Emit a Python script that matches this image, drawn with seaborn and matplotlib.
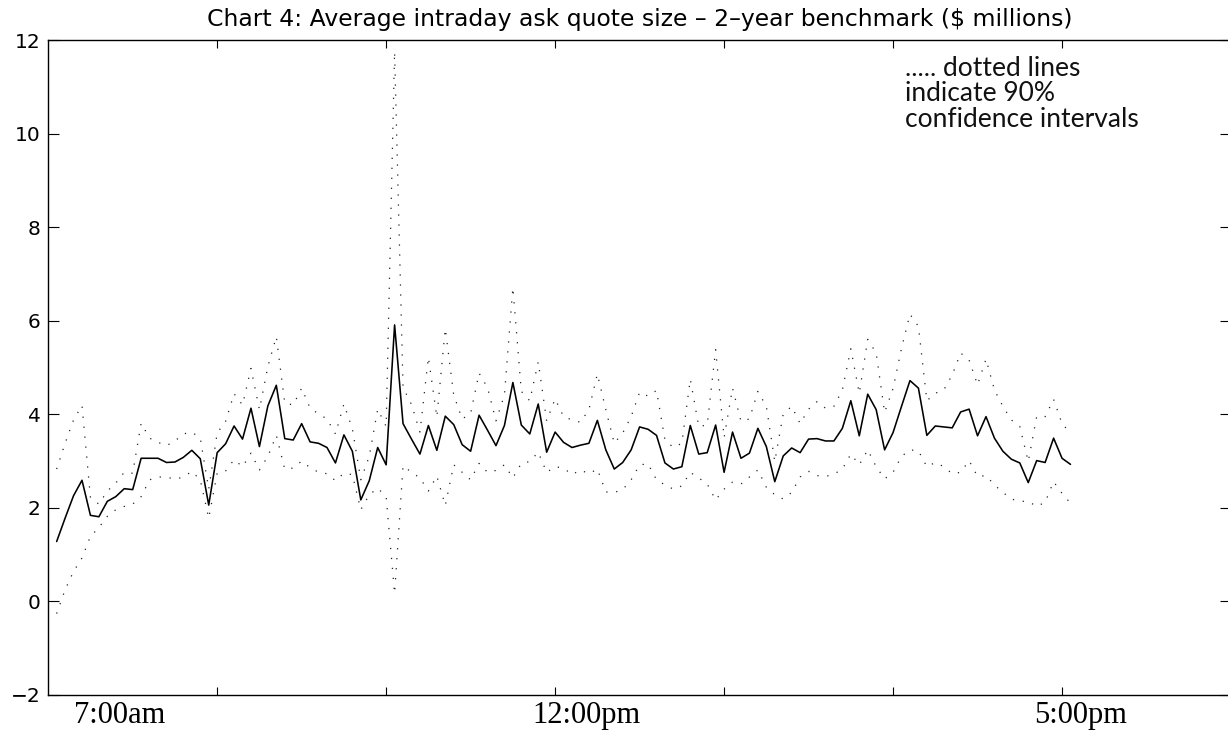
import numpy as np
import pandas as pd
import matplotlib
matplotlib.use("Agg")
import matplotlib.pyplot as plt
import seaborn as sns

# ---- data (5-minute intervals, 7:00am .. 5:00pm) ----
interval = list(range(1, 122))

mean_size = [
    1.28, 1.78, 2.26, 2.59, 1.84, 1.81, 2.14, 2.24, 2.41, 2.39,
    3.06, 3.06, 3.06, 2.97, 2.98, 3.08, 3.23, 3.05, 2.06, 3.18,
    3.37, 3.75, 3.47, 4.13, 3.31, 4.18, 4.62, 3.48, 3.45, 3.80,
    3.41, 3.38, 3.29, 2.96, 3.56, 3.21, 2.17, 2.58, 3.29, 2.92,
    5.91, 3.80, 3.47, 3.15, 3.76, 3.23, 3.96, 3.78, 3.35, 3.21,
    3.98, 3.66, 3.33, 3.76, 4.68, 3.77, 3.58, 4.22, 3.19, 3.62,
    3.40, 3.29, 3.34, 3.38, 3.87, 3.24, 2.83, 2.97, 3.24, 3.73,
    3.68, 3.55, 2.96, 2.83, 2.88, 3.76, 3.15, 3.18, 3.77, 2.76,
    3.62, 3.06, 3.17, 3.70, 3.31, 2.56, 3.11, 3.28, 3.18, 3.47,
    3.48, 3.43, 3.43, 3.70, 4.29, 3.54, 4.43, 4.10, 3.24, 3.61,
    4.17, 4.72, 4.56, 3.55, 3.75, 3.73, 3.71, 4.05, 4.11, 3.54,
    3.95, 3.49, 3.21, 3.04, 2.96, 2.54, 3.01, 2.97, 3.49, 3.06,
    2.93,
]

upper_ci = [
    2.83, 3.38, 3.88, 4.19, 2.22, 2.08, 2.36, 2.53, 2.76, 2.74,
    3.81, 3.49, 3.40, 3.33, 3.43, 3.58, 3.62, 3.49, 2.40, 3.60,
    3.85, 4.44, 4.20, 4.98, 4.10, 5.02, 5.66, 4.24, 4.20, 4.56,
    4.13, 4.01, 3.90, 3.58, 4.22, 3.69, 2.60, 3.10, 4.11, 3.74,
    11.75, 4.57, 4.21, 3.62, 5.22, 3.94, 5.83, 4.41, 3.90, 4.02,
    4.88, 4.57, 3.86, 4.41, 6.71, 4.49, 4.29, 5.12, 3.86, 4.33,
    3.95, 3.88, 3.83, 4.10, 4.86, 4.10, 3.38, 3.60, 3.95, 4.47,
    4.39, 4.51, 3.45, 3.29, 3.38, 4.75, 3.74, 3.77, 5.38, 3.50,
    4.56, 3.85, 3.90, 4.49, 4.17, 2.99, 4.01, 4.17, 3.80, 4.11,
    4.27, 4.13, 4.17, 4.52, 5.40, 4.45, 5.60, 5.31, 4.04, 4.55,
    5.41, 6.14, 5.88, 4.29, 4.45, 4.52, 4.84, 5.31, 5.16, 4.63,
    5.18, 4.52, 4.17, 3.88, 3.74, 2.99, 3.95, 3.95, 4.32, 3.80,
    3.60,
]

lower_ci = [
    -0.26, 0.25, 0.64, 0.93, 1.39, 1.58, 1.82, 1.96, 2.03, 2.08,
    2.24, 2.60, 2.66, 2.66, 2.61, 2.66, 2.78, 2.60, 1.78, 2.74,
    2.79, 3.03, 2.88, 3.17, 2.81, 3.10, 3.55, 2.83, 2.85, 3.00,
    2.86, 2.76, 2.73, 2.58, 2.74, 2.71, 1.96, 2.28, 2.42, 2.24,
    0.17, 2.90, 2.76, 2.64, 2.36, 2.68, 2.05, 2.92, 2.76, 2.60,
    2.95, 2.76, 2.80, 2.92, 2.64, 2.95, 2.99, 3.19, 2.76, 2.88,
    2.85, 2.71, 2.81, 2.73, 2.83, 2.34, 2.33, 2.39, 2.60, 2.92,
    2.94, 2.60, 2.49, 2.40, 2.47, 2.76, 2.64, 2.51, 2.17, 2.40,
    2.55, 2.51, 2.66, 2.81, 2.44, 2.28, 2.19, 2.33, 2.66, 2.78,
    2.69, 2.67, 2.72, 2.83, 3.15, 2.92, 3.24, 2.88, 2.62, 2.76,
    3.10, 3.24, 3.22, 2.88, 2.97, 2.88, 2.73, 2.76, 3.01, 2.67,
    2.69, 2.49, 2.33, 2.19, 2.14, 2.14, 2.03, 2.12, 2.56, 2.31,
    2.10,
]

time_labels = ["7:00am", "12:00pm", "5:00pm"]
time_label_pos = [8.4, 63.7, 122.2]
major_xticks = [20, 40, 60, 80, 100, 120]
yticks = [-2, 0, 2, 4, 6, 8, 10, 12]

df = pd.DataFrame({"interval": interval, "mean": mean_size,
                   "upper": upper_ci, "lower": lower_ci})

sns.set_theme(style="ticks")
plt.rcParams["font.family"] = ["DejaVu Sans"]

fig = plt.figure(figsize=(12.28, 7.31), dpi=100)
ax = fig.add_axes([0.03925, 0.04925, 0.9632, 0.8960])

dot_style = (0, (1, 7))
sns.lineplot(data=df, x="interval", y="upper", ax=ax, color="#222222",
             linewidth=0.9, linestyle=dot_style, estimator=None)
sns.lineplot(data=df, x="interval", y="lower", ax=ax, color="#222222",
             linewidth=0.9, linestyle=dot_style, estimator=None)
sns.lineplot(data=df, x="interval", y="mean", ax=ax, color="black",
             linewidth=1.15, estimator=None)

ax.set_xlim(0, 140)
ax.set_ylim(-2, 12)
ax.set_xlabel("")
ax.set_ylabel("")

for s in ax.spines.values():
    s.set_visible(True)
    s.set_color("black")
    s.set_linewidth(1.0)

ax.set_yticks(yticks)
ax.set_yticklabels([str(v) if v >= 0 else "\u2212" + str(-v) for v in yticks])
ax.tick_params(axis="y", which="major", direction="in", left=True, right=True,
               length=8, width=0.8, labelsize=14.5, pad=5.5, colors="black")

ax.set_xticks(major_xticks)
ax.set_xticklabels([""] * len(major_xticks))
ax.tick_params(axis="x", which="major", direction="in", bottom=True, top=True,
               length=6, width=0.8, colors="black")
ax.set_xticks(time_label_pos, minor=True)
ax.set_xticklabels(time_labels, minor=True, fontfamily="Liberation Serif",
                   fontsize=22)
ax.tick_params(axis="x", which="minor", length=0, pad=4, labelcolor="black")

ax.set_title("Chart 4: Average intraday ask quote size \u2013 2\u2013year benchmark ($ millions)",
             fontsize=16.9, color="black", pad=10)

ax.text(0.7244, 0.976, "..... dotted lines\nindicate 90%\nconfidence intervals",
        transform=ax.transAxes, ha="left", va="top", fontsize=19,
        fontfamily=["Lato", "DejaVu Sans"], fontweight="normal",
        linespacing=1.02, color="#111111")

fig.savefig("out.png", dpi=100)
